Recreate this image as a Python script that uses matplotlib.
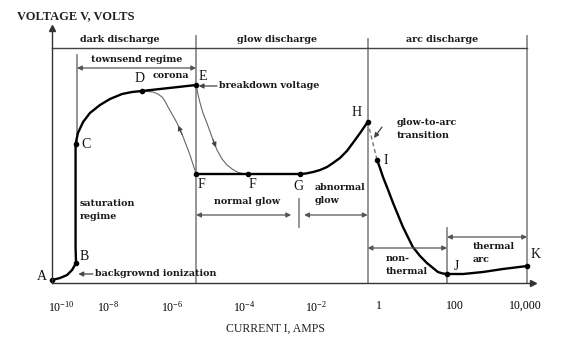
import numpy as np
import matplotlib
matplotlib.use("Agg")
import matplotlib.pyplot as plt

# x values are log10(current in amps), y is relative voltage (schematic)
main_ae_x = [-10.38, -10.04, -9.74, -9.53, -9.36, -9.38, -9.38, -9.28, -9.06, -8.77,
             -8.34, -7.94, -7.56, -7.25, -6.94, -6.375, -5.83, -5.33]
main_ae_y = [3, 5, 8, 13, 20, 35, 139, 150, 161, 170,
             178, 184, 189, 191, 192, 194, 196, 198]
main_fh_x = [-5.33, -3.89, -2.44, -2.28, -2.08, -1.87, -1.65, -1.46, -1.24, -1.02,
             -0.83, -0.60, -0.36]
main_fh_y = [109, 109, 109, 109.5, 111, 113, 116, 120, 125, 132, 140, 150, 161]
main_ik_x = [-0.06, 0.026, 0.105, 0.24, 0.37, 0.5, 0.63, 0.76, 0.89, 1.08, 1.26, 1.39,
             1.55, 1.68, 1.79, 2.23, 2.8, 3.37, 4.06]
main_ik_y = [123, 115, 106, 93, 80, 68, 56, 46, 36, 27, 20, 16,
             11, 9.5, 9, 9, 11, 14, 17]

# hysteresis branches (thin lines)
df_x = [-6.94, -6.75, -6.59, -6.44, -6.31, -6.22, -6.125, -6.0, -5.86, -5.69, -5.5, -5.33]
df_y = [192, 191.5, 191, 189, 186, 182, 176, 169, 160, 146, 128, 109]
ef_x = [-5.33, -5.28, -5.22, -5.14, -5.03, -4.89, -4.75, -4.61, -4.47, -4.33, -4.19,
        -4.06, -3.89]
ef_y = [198, 189, 180, 170, 160, 146, 133, 124, 118, 114, 111, 109.5, 109]

point_names = ["A", "B", "C", "D", "E", "F", "F", "G", "H", "I", "J", "K"]
point_x = [-10.38, -9.36, -9.38, -6.94, -5.33, -5.33, -3.89, -2.44, -0.36, -0.06, 1.79, 4.06]
point_y = [3, 20, 139, 192, 198, 109, 109, 109, 161, 123, 9, 17]

tick_exps = [-10, -8, -6, -4, -2, 0, 2, 4]
tick_labels = [r"$\mathregular{10^{-10}}$", r"$\mathregular{10^{-8}}$", r"$\mathregular{10^{-6}}$",
               r"$\mathregular{10^{-4}}$", r"$\mathregular{10^{-2}}$", "1", "100", "10,000"]

# the printed axis is not evenly spaced per decade: knots of the drawn scale
knot_exp = [-13, -10, -8, -6, -4, -2, 0, 2, 4, 6]
knot_pos = [-9.5, 61, 108, 172, 244, 316, 379, 455, 525, 595]


def forward(x):
    return np.interp(x, knot_exp, knot_pos)


def inverse(p):
    return np.interp(p, knot_pos, knot_exp)


plt.rcParams['mathtext.fontset'] = 'custom'
plt.rcParams['mathtext.rm'] = 'Liberation Serif'

BOLD = dict(family='DejaVu Serif', fontweight='bold', fontsize=6.8, color='#1a1a1a')
LET = dict(family='Liberation Serif', fontsize=10, color='#111111')
GRAY = '#8c8c8c'

fig = plt.figure(figsize=(5.64, 3.56), dpi=100)
ax = fig.add_axes([52 / 564, (356 - 283) / 356, (533 - 52) / 564, (283 - 28) / 356])
ax.set_xscale('function', functions=(forward, inverse))
ax.set_xlim(inverse(52), inverse(533))
ax.set_ylim(0, 255)

for s in ['top', 'right']:
    ax.spines[s].set_visible(False)
for s in ['left', 'bottom']:
    ax.spines[s].set_color('#333333')
    ax.spines[s].set_linewidth(1.0)
ax.plot(1, 0, '>', color='#333333', ms=4, transform=ax.transAxes, clip_on=False)
ax.plot(0, 1, '^', color='#333333', ms=4, transform=ax.transAxes, clip_on=False)

ax.set_yticks([])
ax.set_xticks(tick_exps)
ax.set_xticklabels(tick_labels, family='Liberation Serif', fontsize=8.5)
ax.tick_params(axis='x', length=0, pad=12)
ax.minorticks_off()

# region boundaries
x_e, x_h, x_j, x_k = -5.33, -0.36, 1.79, 4.06
ax.plot([x_e, x_e], [0, 247], color=GRAY, lw=1.3, clip_on=False)
ax.plot([x_h, x_h], [0, 244], color=GRAY, lw=1.3, clip_on=False)
ax.plot([x_k, x_k], [0, 247], color=GRAY, lw=1.3, clip_on=False)
ax.plot([x_j, x_j], [0, 55], color=GRAY, lw=1.3)
ax.plot([-9.32, -9.32], [139, 228], color=GRAY, lw=1.3)
ax.plot([inverse(52), x_k], [235, 235], color='#444444', lw=1.0, clip_on=False)
ax.plot([-2.47, -2.47], [56, 84], color=GRAY, lw=1.3)


def span_arrow(x0, x1, y):
    ax.annotate('', xy=(x1, y), xytext=(x0, y),
                arrowprops=dict(arrowstyle='<|-|>', color='#555555', lw=0.9,
                                mutation_scale=7, shrinkA=0, shrinkB=0))


def point_arrow(x0, y0, x1, y1):
    ax.annotate('', xy=(x1, y1), xytext=(x0, y0),
                arrowprops=dict(arrowstyle='-|>', color='#444444', lw=0.9,
                                mutation_scale=7, shrinkA=0, shrinkB=0))


span_arrow(-9.32, x_e, 215)
span_arrow(x_e, -2.69, 68)
span_arrow(-2.33, x_h, 68)
span_arrow(x_h, x_j, 35)
span_arrow(x_j, x_k, 46)
point_arrow(-4.75, 197, -5.26, 197)
point_arrow(-8.64, 9, -9.26, 9)
point_arrow(0.08, 156, -0.16, 145)

# curves
ax.plot(df_x, df_y, color='#666666', lw=0.8)
ax.plot(ef_x, ef_y, color='#666666', lw=0.8)
ax.annotate('', xy=(df_x[8], df_y[8]), xytext=(df_x[9], df_y[9]),
            arrowprops=dict(arrowstyle='-|>', color='#444444', lw=0.8, mutation_scale=7))
ax.annotate('', xy=(ef_x[6], ef_y[6]), xytext=(ef_x[5], ef_y[5]),
            arrowprops=dict(arrowstyle='-|>', color='#444444', lw=0.8, mutation_scale=7))
ax.plot([main_fh_x[-1], main_ik_x[0]], [main_fh_y[-1], main_ik_y[0]],
        color='#777777', lw=1.0, ls=(0, (3, 2)))
for xs, ys in [(main_ae_x, main_ae_y), (main_fh_x, main_fh_y), (main_ik_x, main_ik_y)]:
    ax.plot(xs, ys, color='black', lw=1.7, solid_capstyle='round',
            solid_joinstyle='round', clip_on=False)
ax.plot(point_x, point_y, 'o', color='black', ms=3.0, clip_on=False)

# point letters
ax.text(-10.81, 6, 'A', ha='center', va='center', **LET)
ax.text(-9.02, 26, 'B', ha='center', va='center', **LET)
ax.text(-8.94, 138, 'C', ha='center', va='center', **LET)
ax.text(-7.0, 205, 'D', ha='center', va='center', **LET)
ax.text(-5.14, 207, 'E', ha='center', va='center', **LET)
ax.text(-5.17, 98, 'F', ha='center', va='center', **LET)
ax.text(-3.78, 98, 'F', ha='center', va='center', **LET)
ax.text(-2.5, 97, 'G', ha='center', va='center', **LET)
ax.text(-0.70, 171, 'H', ha='center', va='center', **LET)
ax.text(0.18, 123, 'I', ha='center', va='center', **LET)
ax.text(2.03, 16, 'J', ha='center', va='center', **LET)
ax.text(4.31, 28, 'K', ha='center', va='center', **LET)

# region labels
ax.text(-7.625, 243, 'dark discharge', ha='center', va='center', **BOLD)
ax.text(-3.08, 243, 'glow discharge', ha='center', va='center', **BOLD)
ax.text(1.66, 243, 'arc discharge', ha='center', va='center', **BOLD)
ax.text(-7.09, 224, 'townsend regime', ha='center', va='center', **BOLD)
ax.text(-6.03, 207, 'corona', ha='center', va='center', **BOLD)
ax.text(-4.69, 197, 'breakdown voltage', ha='left', va='center', **BOLD)
ax.text(-9.19, 73, 'saturation\nregime', ha='left', va='center', linespacing=1.6, **BOLD)
ax.text(-8.55, 9, 'backgrownd ionization', ha='left', va='center', **BOLD)
ax.text(-3.92, 82, 'normal glow', ha='center', va='center', **BOLD)
ax.text(-2.03, 89, 'abnormal\nglow', ha='left', va='center', linespacing=1.6, **BOLD)
ax.text(0.47, 154, 'glow-to-arc\ntransition', ha='left', va='center', linespacing=1.6, **BOLD)
ax.text(0.18, 18, 'non-\nthermal', ha='left', va='center', linespacing=1.6, **BOLD)
ax.text(2.51, 30, 'thermal\narc', ha='left', va='center', linespacing=1.6, **BOLD)

ax.text(-11.87, 267, 'VOLTAGE V, VOLTS', ha='left', va='center',
        family='Liberation Serif', fontweight='bold', fontsize=9, color='#222222')
ax.text(-3.14, -46, 'CURRENT I, AMPS', ha='center', va='center',
        family='Liberation Serif', fontsize=8.5, color='#222222')

fig.savefig('out.png', dpi=100, facecolor='white')
